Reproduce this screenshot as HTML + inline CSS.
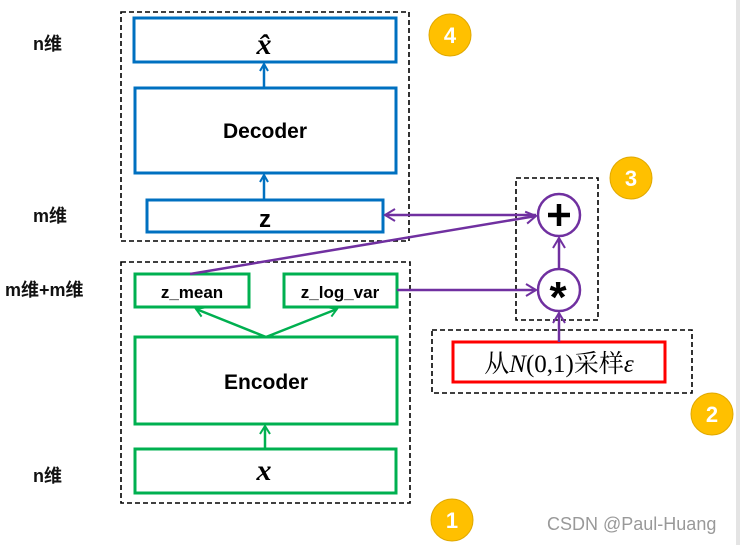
<!DOCTYPE html>
<html><head><meta charset="utf-8"><style>
html,body{margin:0;padding:0;background:#fff;}
svg{display:block;}
.s{font-family:"Liberation Sans","Noto Sans CJK SC",sans-serif;}
.r{font-family:"Liberation Serif","Noto Serif CJK SC",serif;}
</style></head><body>
<svg width="740" height="545" viewBox="0 0 740 545" xmlns="http://www.w3.org/2000/svg">
<defs>
<marker id="ab" markerWidth="10" markerHeight="10" refX="8" refY="5" orient="auto" markerUnits="userSpaceOnUse"><path d="M1,1 L8,5 L1,9" fill="none" stroke="#0070C0" stroke-width="2"/></marker>
<marker id="ag" markerWidth="12" markerHeight="12" refX="9" refY="6" orient="auto" markerUnits="userSpaceOnUse"><path d="M1,1 L9,6 L1,11" fill="none" stroke="#00B050" stroke-width="2"/></marker>
<marker id="ap" markerWidth="14" markerHeight="14" refX="11" refY="7" orient="auto" markerUnits="userSpaceOnUse"><path d="M1,1 L11,7 L1,13" fill="none" stroke="#7030A0" stroke-width="2"/></marker>
</defs>
<rect x="736" y="0" width="4" height="545" fill="#e4e4e4"/>
<g fill="none" stroke="#000" stroke-width="1.6" stroke-dasharray="5,3">
<rect x="121" y="12" width="288" height="229"/>
<rect x="121" y="262" width="289" height="241"/>
<rect x="516" y="178" width="82" height="142"/>
<rect x="432" y="330" width="260" height="63"/>
</g>
<g fill="none" stroke="#0070C0" stroke-width="3">
<rect x="134" y="18" width="262" height="44"/>
<rect x="135" y="88" width="261" height="85"/>
<rect x="147" y="200" width="236" height="32"/>
</g>
<g stroke="#0070C0" stroke-width="2.5" fill="none">
<line x1="264" y1="88" x2="264" y2="64" marker-end="url(#ab)"/>
<line x1="264" y1="200" x2="264" y2="175" marker-end="url(#ab)"/>
</g>
<g fill="none" stroke="#00B050" stroke-width="3">
<rect x="135" y="274" width="114" height="33"/>
<rect x="284" y="274" width="113" height="33"/>
<rect x="135" y="337" width="262" height="87"/>
<rect x="135" y="449" width="261" height="44"/>
</g>
<g stroke="#00B050" stroke-width="2.5" fill="none">
<line x1="266" y1="337" x2="196" y2="309" marker-end="url(#ag)"/>
<line x1="266" y1="337" x2="337" y2="309" marker-end="url(#ag)"/>
<line x1="265" y1="449" x2="265" y2="426" marker-end="url(#ag)"/>
</g>
<rect x="453" y="342" width="212" height="40" fill="none" stroke="#FF0000" stroke-width="3"/>
<g stroke="#7030A0" stroke-width="2.5" fill="none">
<circle cx="559" cy="215" r="21" fill="#fff"/>
<circle cx="559" cy="290" r="21" fill="#fff"/>
<line x1="536" y1="215" x2="385" y2="215" marker-end="url(#ap)"/>
<line x1="190" y1="274" x2="536" y2="216" marker-end="url(#ap)"/>
<line x1="397" y1="290" x2="536" y2="290" marker-end="url(#ap)"/>
<line x1="559" y1="269" x2="559" y2="238" marker-end="url(#ap)"/>
<line x1="559" y1="342" x2="559" y2="313" marker-end="url(#ap)"/>
</g>
<g stroke="#000" stroke-width="4.5">
<line x1="548" y1="215" x2="570" y2="215"/><line x1="559" y1="204" x2="559" y2="226"/>
</g>
<text class="s" x="558" y="312" font-size="44" font-weight="bold" text-anchor="middle">*</text>
<g class="s" font-weight="bold" fill="#000" text-anchor="middle">
<text x="265" y="138" font-size="21">Decoder</text>
<text x="266" y="389" font-size="21">Encoder</text>
<text x="192" y="298" font-size="17">z_mean</text>
<text x="340" y="298" font-size="17">z_log_var</text>
<text x="265" y="227" font-size="24">z</text>
</g>
<text class="r" x="264" y="54" font-size="30" font-style="italic" font-weight="bold" text-anchor="middle">x̂</text>
<text class="r" x="264" y="480" font-size="30" font-style="italic" font-weight="bold" text-anchor="middle">x</text>
<text class="r" x="559" y="372" font-size="25" text-anchor="middle">从<tspan font-style="italic">N</tspan>(0,1)采样<tspan font-style="italic">ε</tspan></text>
<g class="s" font-size="18" font-weight="bold" fill="#111">
<text x="33" y="50">n维</text>
<text x="33" y="222">m维</text>
<text x="5" y="296">m维+m维</text>
<text x="33" y="482">n维</text>
</g>
<g fill="#FFC000" stroke="#E0A800" stroke-width="1">
<circle cx="450" cy="35" r="21"/><circle cx="631" cy="178" r="21"/>
<circle cx="712" cy="414" r="21"/><circle cx="452" cy="520" r="21"/>
</g>
<g class="s" fill="#fff" font-size="22" font-weight="bold" text-anchor="middle">
<text x="450" y="43">4</text><text x="631" y="186">3</text>
<text x="712" y="422">2</text><text x="452" y="528">1</text>
</g>
<text class="s" x="547" y="530" font-size="18" fill="#999">CSDN @Paul-Huang</text>
</svg>
</body></html>
